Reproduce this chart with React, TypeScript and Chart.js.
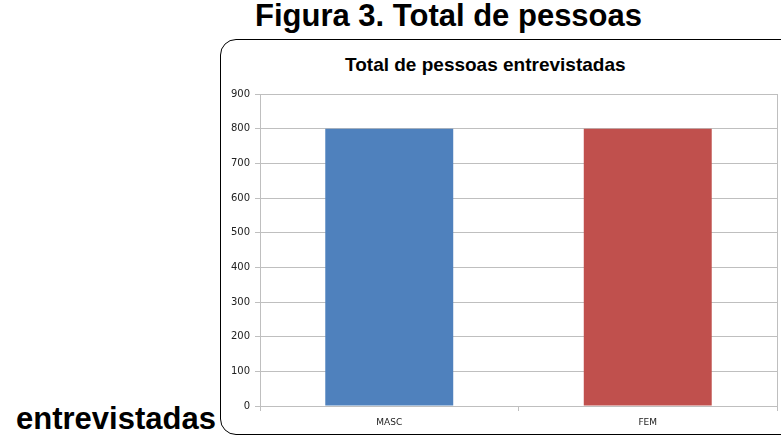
import React, { useEffect, useRef } from "react";
import { Chart, registerables } from "chart.js";

Chart.register(...registerables);

const categories = ["MASC", "FEM"];
const values = [800, 800];
const barColors = ["#4F81BD", "#C0504D"];
const yTicks = [0, 100, 200, 300, 400, 500, 600, 700, 800, 900];

const GRID = "#bfbfbf";

const rightBorder = {
  id: "rightBorder",
  afterDraw(chart: any) {
    const { ctx, chartArea } = chart;
    ctx.save();
    ctx.strokeStyle = GRID;
    ctx.lineWidth = 1;
    ctx.beginPath();
    const x = Math.round(chartArea.right) + 0.5;
    ctx.moveTo(x, chartArea.top);
    ctx.lineTo(x, chartArea.bottom + 5);
    ctx.stroke();
    ctx.restore();
  },
};

export default function App() {
  const ref = useRef<HTMLCanvasElement>(null);
  useEffect(() => {
    const chart = new Chart(ref.current!, {
      type: "bar",
      data: {
        labels: categories,
        datasets: [
          {
            data: values,
            backgroundColor: barColors,
            categoryPercentage: 1,
            barPercentage: 0.495,
          },
        ],
      },
      options: {
        animation: false,
        responsive: false,
        layout: { padding: { top: 54, right: 4, left: 0, bottom: 0 } },
        plugins: { legend: { display: false }, tooltip: { enabled: false }, title: { display: false } },
        scales: {
          x: {
            grid: { display: true, offset: true, drawOnChartArea: false, tickLength: 5, color: GRID },
            border: { display: true, color: GRID },
            ticks: { color: "#222", font: { family: "DejaVu Sans", size: 9 }, padding: 6 },
            afterFit(s: any) { s.height = 30; },
          },
          y: {
            min: 0,
            max: 900,
            afterBuildTicks(s: any) { s.ticks = yTicks.map((v) => ({ value: v })); },
            grid: { color: GRID, tickLength: 5 },
            border: { display: true, color: GRID },
            ticks: { color: "#222", font: { family: "DejaVu Sans", size: 10 }, padding: 5 },
            afterFit(s: any) { s.width = 40; },
          },
        },
      },
      plugins: [rightBorder],
    });
    return () => chart.destroy();
  }, []);

  return (
    <div style={{ position: "fixed", left: 0, top: 0, width: 781, height: 436, overflow: "hidden", background: "#fff", fontFamily: "'Liberation Sans', Arial, sans-serif" }}>
      <div style={{ position: "absolute", left: 255, top: -1, whiteSpace: "nowrap", fontWeight: "bold", fontSize: 31, lineHeight: "34px", color: "#000" }}>
        Figura 3. Total de pessoas
      </div>
      <div style={{ position: "absolute", left: 16, top: 402, whiteSpace: "nowrap", fontWeight: "bold", fontSize: 31, lineHeight: "34px", color: "#000" }}>
        entrevistadas
      </div>
      <div style={{ position: "absolute", left: 220, top: 39, width: 700, height: 396, border: "1px solid #000", borderRadius: 16, boxSizing: "border-box" }} />
      <div style={{ position: "absolute", left: 345, top: 53, whiteSpace: "nowrap", fontWeight: "bold", fontSize: 19, lineHeight: "24px", color: "#000" }}>
        Total de pessoas entrevistadas
      </div>
      <canvas ref={ref} width={561} height={396} style={{ position: "absolute", left: 220, top: 40, width: 561, height: 396 }} />
    </div>
  );
}
